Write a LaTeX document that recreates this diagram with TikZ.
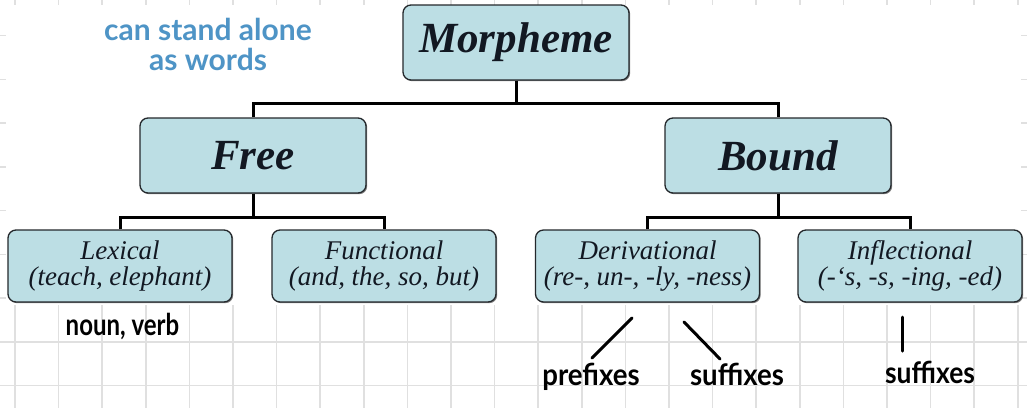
\documentclass[tikz,border=0pt]{standalone}
\usepackage{fontspec}
\setmainfont{Liberation Serif}
\newfontfamily\handfont{Lato}
\usetikzlibrary{shadows}

\definecolor{boxfill}{RGB}{188,222,228}
\definecolor{boxline}{RGB}{36,40,44}
\definecolor{gridline}{RGB}{224,224,224}
\definecolor{inkblue}{RGB}{78,148,198}
\definecolor{labelink}{RGB}{18,24,34}

\begin{document}
\begin{tikzpicture}[x=1pt,y=-1pt,
  box/.style={draw=boxline, line width=1.3pt, fill=boxfill, rounded corners=8pt,
    inner sep=0pt, align=center, text=labelink,
    drop shadow={shadow xshift=1.2pt, shadow yshift=-1.2pt, opacity=0.5, fill=black}},
  bigbox/.style={box, minimum width=226pt, minimum height=75pt,
    font=\fontsize{43}{43}\selectfont\bfseries\itshape},
  smallbox/.style={box, minimum width=224pt, minimum height=72pt,
    font=\fontsize{27}{26}\selectfont\itshape},
  tree/.style={line width=3pt, black},
  hand/.style={font=\handfont\bfseries\fontsize{30}{30}\selectfont, inner sep=0pt, anchor=base},
  pen/.style={line width=3pt, line cap=round, black}]

\useasboundingbox (0,0) rectangle (1027,408);
\fill[white] (0,0) rectangle (1027,408);

% squared paper
\foreach \i in {0,...,23}
  \draw[gridline, line width=1.5pt] ({15+43.6*\i},0) -- ({15+43.6*\i},408);
\foreach \j in {0,...,8}
  \draw[gridline, line width=1.5pt] (0,{35.5+43.75*\j}) -- (1027,{35.5+43.75*\j});
\fill[white] (6,5) rectangle (1021,305);

% boxes
\node[bigbox] (M) at (516,42.5) {Morpheme};
\node[bigbox] (F) at (253,155.5) {Free};
\node[bigbox] (B) at (778,155.5) {Bound};
\node[smallbox] (L)  at (120,266)   {Lexical\\(teach, elephant)};
\node[smallbox] (Fn) at (384,266)   {Functional\\(and, the, so, but)};
\node[smallbox] (D)  at (647.5,266) {Derivational\\(re-, un-, -ly, -ness)};
\node[smallbox] (I)  at (910,266)   {Inflectional\\(-‘s, -s, -ing, -ed)};

% tree connectors
\draw[tree] (M.south) -- ++(0,24);
\draw[tree] (F.north) -- ++(0,-14) -| (B.north);
\draw[tree] (F.south) -- ++(0,25);
\draw[tree] (L.north) -- ++(0,-12) -| (Fn.north);
\draw[tree] (B.south) -- ++(0,25);
\draw[tree] (D.north) -- ++(0,-12) -| (I.north);

% handwritten notes
\node[hand, text=inkblue] (n1) at (208,40) {can stand alone};
\node[hand, text=inkblue] (n2) at (208,70) {as words};
\node[hand] (nv) at (122.5,335) {\scalebox{0.8}[1]{noun, verb}};
\node[hand] (pre) at (591,385) {\scalebox{0.92}[1]{prefixes}};
\node[hand] (suf1) at (737,385) {\scalebox{0.92}[1]{suffixes}};
\node[hand] (suf2) at (930,383) {\scalebox{0.88}[1]{suffixes}};

\coordinate (d1) at (632,318); \coordinate (d2) at (592,358);
\coordinate (d3) at (684,322); \coordinate (d4) at (720,359);
\coordinate (i1) at (902,317); \coordinate (i2) at (902,351);
\draw[pen] (d1) -- (d2);
\draw[pen] (d3) -- (d4);
\draw[pen] (i1) -- (i2);
\end{tikzpicture}
\end{document}
